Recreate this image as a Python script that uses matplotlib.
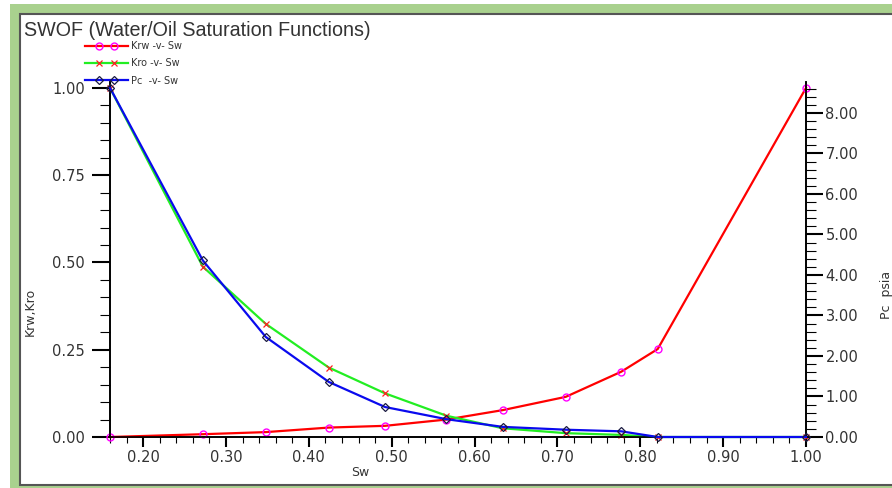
import matplotlib
matplotlib.use("Agg")
import numpy as np
import matplotlib.pyplot as plt
from matplotlib.lines import Line2D
from matplotlib.legend_handler import HandlerLine2DCompound
from matplotlib.patches import Rectangle
from matplotlib.ticker import MultipleLocator, FormatStrFormatter

# SWOF table
sw = [0.160, 0.272, 0.348, 0.424, 0.492, 0.566, 0.634, 0.710, 0.777, 0.821, 1.000]
krw = [0.000, 0.008, 0.014, 0.027, 0.032, 0.050, 0.077, 0.115, 0.187, 0.252, 1.000]
kro = [1.000, 0.488, 0.324, 0.199, 0.125, 0.061, 0.025, 0.011, 0.006, 0.000, 0.000]
pc = [8.62, 4.36, 2.47, 1.36, 0.74, 0.44, 0.25, 0.18, 0.14, 0.00, 0.00]

W, H = 892, 488
_GREEN_BORDER = "#a9d18e"
_TXT = "#333333"


class _InsetMarkers(HandlerLine2DCompound):
    """Full-length legend line, but the two markers pulled in from the ends."""

    def get_xdata(self, legend, xdescent, ydescent, width, height, fontsize):
        pad = 1.45 * fontsize
        xline = np.array([-xdescent, -xdescent + width])
        xmark = np.linspace(-xdescent + pad, -xdescent + width - pad, 2)
        return xline, xmark


fig = plt.figure(figsize=(W / 100, H / 100), dpi=100, facecolor="white")
plt.rcParams["font.family"] = ["DejaVu Sans"]

# light green frame + white panel with dark edge (behind the axes)
fig.patches.append(Rectangle((10 / W, 0), 1, (H - 4) / H, transform=fig.transFigure,
                             facecolor=_GREEN_BORDER, edgecolor="none", zorder=-3))
fig.patches.append(Rectangle((20 / W, 3 / H), 1, (H - 17) / H, transform=fig.transFigure,
                             facecolor="white", edgecolor="#555555", linewidth=1.5, zorder=-2))

ax = fig.add_axes([110 / W, (H - 437) / H, (806 - 110) / W, (437 - 82) / H])
ax.set_facecolor("none")
ax2 = ax.twinx()

ax.plot(sw, krw, color="#ff0000", lw=1.6, marker="o", ms=5, mfc="none", mec="#ff00ff",
        mew=1.0, label="Krw -v- Sw", zorder=3, clip_on=False)
ax.plot(sw, kro, color="#22ee22", lw=1.6, marker="x", ms=5, mec="#ff2020",
        mew=0.9, label="Kro -v- Sw", zorder=3, clip_on=False)
ax2.plot(sw, pc, color="#0a0aee", lw=1.6, marker="D", ms=4, mfc="none", mec="#1a1a40",
         mew=0.9, label="Pc  -v- Sw", zorder=3, clip_on=False)

ax.set_xlim(0.16, 1.0)
ax.set_ylim(0, 1.017)
ax2.set_ylim(0, 8.765)

for a in (ax, ax2):
    a.spines["top"].set_visible(False)
    for s in ("left", "right", "bottom"):
        a.spines[s].set_color("black")
        a.spines[s].set_linewidth(1.2)

ax.xaxis.set_major_locator(MultipleLocator(0.1))
ax.xaxis.set_minor_locator(MultipleLocator(0.02))
ax.xaxis.set_major_formatter(FormatStrFormatter("%.2f"))
ax.yaxis.set_major_locator(MultipleLocator(0.25))
ax.yaxis.set_minor_locator(MultipleLocator(0.05))
ax.yaxis.set_major_formatter(FormatStrFormatter("%.2f"))
ax2.yaxis.set_major_locator(MultipleLocator(1.0))
ax2.yaxis.set_minor_locator(MultipleLocator(0.2))
ax2.yaxis.set_major_formatter(FormatStrFormatter("%.2f"))

ax.tick_params(axis="x", which="major", length=7, width=1.5, pad=2, labelsize=10.5, labelcolor=_TXT)
ax.tick_params(axis="x", which="minor", length=4, width=0.8)
ax.tick_params(axis="y", which="major", length=13, width=1.5, pad=5, labelsize=10.5, labelcolor=_TXT)
ax.tick_params(axis="y", which="minor", length=7, width=0.8)
ax2.tick_params(axis="y", which="major", length=12, width=1.5, pad=2, labelsize=10.5, labelcolor=_TXT)
ax2.tick_params(axis="y", which="minor", length=7, width=0.8)

# axis titles sit off-centre in the original
ax.set_xlabel("Sw", fontsize=9, color=_TXT)
ax.xaxis.set_label_coords(0.359, -0.082)
ax.set_ylabel("Krw,Kro", fontsize=9, color=_TXT)
ax.yaxis.set_label_coords(-0.105, 0.352)
ax2.set_ylabel("Pc  psia", fontsize=9, color=_TXT)
ax2.yaxis.set_label_coords(1.106, 0.40)

fig.text(24 / W, 1 - 30 / H, "SWOF (Water/Oil Saturation Functions)", ha="left", va="center",
         fontsize=14.2, color=_TXT, family=["Liberation Sans", "DejaVu Sans"])

h1, l1 = ax.get_legend_handles_labels()
h2, l2 = ax2.get_legend_handles_labels()
leg = fig.legend(h1 + h2, l1 + l2, loc="upper left", bbox_to_anchor=(85 / W, 1 - 41 / H),
                 bbox_transform=fig.transFigure, frameon=False, fontsize=7, numpoints=2,
                 handlelength=4.4, handletextpad=0.3, borderpad=0, borderaxespad=0,
                 labelspacing=0.75, handler_map={Line2D: _InsetMarkers()})
for t in leg.get_texts():
    t.set_color(_TXT)

fig.savefig("out.png", dpi=100, facecolor="white")
